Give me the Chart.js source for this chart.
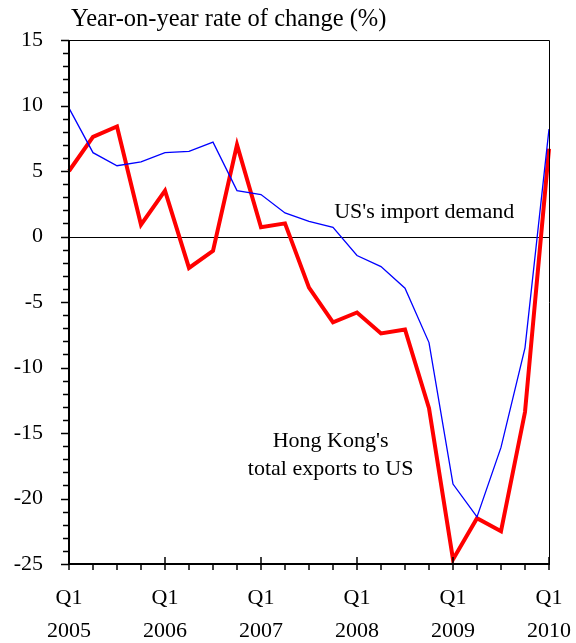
<!DOCTYPE html>
<html><head><meta charset="utf-8">
<script src="https://cdn.jsdelivr.net/npm/chart.js@4"></script>
<style>html,body{margin:0;padding:0;background:#fff}</style>
</head><body>
<canvas id="c" width="576" height="643"></canvas>
<script>
const quarters = ['2005Q1','2005Q2','2005Q3','2005Q4','2006Q1','2006Q2','2006Q3','2006Q4','2007Q1','2007Q2','2007Q3','2007Q4','2008Q1','2008Q2','2008Q3','2008Q4','2009Q1','2009Q2','2009Q3','2009Q4','2010Q1'];
const usImportDemand = [9.8,6.4,5.4,5.7,6.4,6.5,7.2,3.5,3.2,1.8,1.15,0.7,-1.45,-2.3,-3.95,-8.1,-18.9,-21.4,-16.1,-8.5,8.2];
const hkExportsToUS = [5.0,7.6,8.4,0.9,3.5,-2.4,-1.1,7.0,0.7,1.0,-3.9,-6.55,-5.8,-7.4,-7.1,-13.1,-24.65,-21.5,-22.5,-13.4,6.7];
const yTickValues = [-25,-20,-15,-10,-5,0,5,10,15];
const yearLabels = ['2005','2006','2007','2008','2009','2010'];
const titleText = 'Year-on-year rate of change (%)';
const usLabel = "US's import demand";
const hkLabel = ["Hong Kong's", 'total exports to US'];

const FONT = '"Liberation Serif","Times New Roman",serif';

const decor = {
  id: 'decor',
  beforeDatasetsDraw(chart) {
    const {ctx, chartArea: a, scales: {y}} = chart;
    ctx.save();
    ctx.strokeStyle = '#000'; ctx.lineWidth = 1;
    const y0 = Math.round(y.getPixelForValue(0)) + 0.5;
    ctx.beginPath(); ctx.moveTo(a.left, y0); ctx.lineTo(a.right, y0); ctx.stroke();
    ctx.restore();
  },
  afterDatasetsDraw(chart) {
    const {ctx, chartArea: a, scales: {x, y}} = chart;
    ctx.save();
    ctx.strokeStyle = '#000';
    ctx.lineWidth = 1;
    ctx.beginPath();
    ctx.moveTo(a.left, a.top + 0.5); ctx.lineTo(a.right + 0.5, a.top + 0.5); ctx.lineTo(a.right + 0.5, a.bottom);
    ctx.stroke();
    ctx.lineWidth = 2;
    ctx.beginPath();
    ctx.moveTo(a.left, a.top); ctx.lineTo(a.left, a.bottom); ctx.lineTo(a.right + 1, a.bottom);
    ctx.stroke();
    ctx.lineWidth = 1.5;
    for (let v = y.min; v <= y.max; v++) {
      const py = Math.round(y.getPixelForValue(v)) + 0.5;
      const len = (v % 5 === 0) ? 8 : 6;
      ctx.beginPath(); ctx.moveTo(a.left - len, py); ctx.lineTo(a.left, py); ctx.stroke();
    }
    for (let i = 0; i < quarters.length; i++) {
      const px = Math.round(x.getPixelForValue(i));
      const major = i % 4 === 0;
      ctx.beginPath();
      ctx.moveTo(px, major ? a.bottom - 7 : a.bottom);
      ctx.lineTo(px, a.bottom + 6);
      ctx.stroke();
    }
    ctx.fillStyle = '#000';
    ctx.textBaseline = 'middle';
    ctx.textAlign = 'left';
    ctx.font = '24.5px ' + FONT;
    ctx.fillText(titleText, 71, 20);
    ctx.font = '22px ' + FONT;
    ctx.textAlign = 'center';
    ctx.fillText(usLabel, x.getPixelForValue(14.8), y.getPixelForValue(1.85));
    ctx.fillText(hkLabel[0], x.getPixelForValue(10.9), y.getPixelForValue(-15.6));
    ctx.fillText(hkLabel[1], x.getPixelForValue(10.9), y.getPixelForValue(-17.75));
    ctx.restore();
  }
};

new Chart(document.getElementById('c'), {
  type: 'line',
  data: {
    labels: quarters,
    datasets: [
      {label: "US's import demand", data: usImportDemand, borderColor: '#0000FF', borderWidth: 1.3, pointRadius: 0, tension: 0, clip: false},
      {label: "Hong Kong's total exports to US", data: hkExportsToUS, borderColor: '#FF0000', borderWidth: 4, pointRadius: 0, tension: 0, clip: false, borderJoinStyle: 'miter'}
    ]
  },
  options: {
    responsive: false,
    devicePixelRatio: 1,
    animation: false,
    layout: {padding: {top: 40, right: 27, left: 0, bottom: 0}},
    plugins: {legend: {display: false}, tooltip: {enabled: false}, title: {display: false}},
    scales: {
      x: {
        type: 'category', offset: false,
        grid: {display: false}, border: {display: false},
        ticks: {
          autoSkip: false, maxRotation: 0, padding: 10, color: '#000',
          font: {family: FONT, size: 22, lineHeight: 1.5},
          callback: (v, i) => i % 4 === 0 ? ['Q1', yearLabels[i / 4]] : ''
        },
        afterFit: s => { s.height = 79; s.paddingLeft = 0; s.paddingRight = 0; }
      },
      y: {
        min: -25, max: 15,
        grid: {display: false}, border: {display: false},
        afterBuildTicks: s => { s.ticks = yTickValues.map(v => ({value: v})); },
        ticks: {padding: 18, color: '#000', font: {family: FONT, size: 22}},
        afterFit: s => { s.width = 69; s.paddingTop = 0; s.paddingBottom = 0; }
      }
    }
  },
  plugins: [decor]
});
</script>
</body></html>
